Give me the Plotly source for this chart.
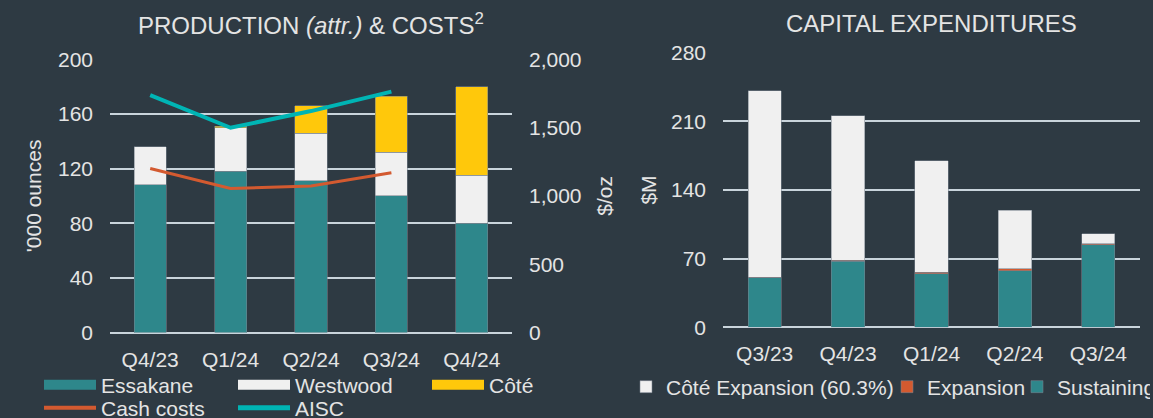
import plotly.graph_objects as go

# ---------------- data ----------------
prod_quarters = ["Q4/23", "Q1/24", "Q2/24", "Q3/24", "Q4/24"]
essakane = [108, 118, 111, 100, 80]
westwood = [28, 32, 35, 32, 35]
cote = [None, 1, 20, 41, 65]

cost_quarters = ["Q4/23", "Q1/24", "Q2/24", "Q3/24"]
cash_costs = [1200, 1055, 1072, 1170]
aisc = [1738, 1499, 1621, 1763]

capex_quarters = ["Q3/23", "Q4/23", "Q1/24", "Q2/24", "Q3/24"]
sustaining = [50.5, 67.5, 54.5, 57.5, 84]
expansion = [0.5, 1, 1.5, 2, 1.2]
cote_expansion = [190, 147, 114, 60, 10]

# ---------------- style ----------------
BG = "#2E3A43"
TXT = "#E4E4E4"
GRID = "#C9D4DC"
TEAL = "#2E878B"
WHITE = "#F0F0F0"
YELLOW = "#FFC80B"
ORANGE = "#D35A30"
CYAN = "#00B4B4"
FONT = "Liberation Sans, Arial, sans-serif"
FS = 21
W, H = 1153, 418

edge = dict(color="rgba(120,130,140,0.7)", width=0.8)

fig = go.Figure()

# left chart bars
fig.add_trace(go.Bar(x=prod_quarters, y=essakane, marker=dict(color=TEAL, line=edge),
                     width=0.4, showlegend=False, xaxis="x", yaxis="y", name="Essakane"))
fig.add_trace(go.Bar(x=prod_quarters, y=westwood, marker=dict(color=WHITE, line=edge),
                     width=0.4, showlegend=False, xaxis="x", yaxis="y", name="Westwood"))
fig.add_trace(go.Bar(x=prod_quarters, y=cote, marker=dict(color=YELLOW, line=edge),
                     width=0.4, showlegend=False, xaxis="x", yaxis="y", name="Côté"))
# cost lines
fig.add_trace(go.Scatter(x=cost_quarters, y=cash_costs, mode="lines",
                         line=dict(color=ORANGE, width=3), showlegend=False,
                         xaxis="x", yaxis="y2", name="Cash costs"))
fig.add_trace(go.Scatter(x=cost_quarters, y=aisc, mode="lines",
                         line=dict(color=CYAN, width=4), showlegend=False,
                         xaxis="x", yaxis="y2", name="AISC"))

# left legend entries (wide swatches)
for nm, col, lw, lg, rk in [("Essakane", TEAL, 12, "legend", 1), ("Westwood", WHITE, 12, "legend", 2),
                            ("Côté", YELLOW, 12, "legend", 3), ("Cash costs", ORANGE, 4, "legend3", 1),
                            ("AISC", CYAN, 5, "legend3", 2)]:
    fig.add_trace(go.Scatter(x=[None], y=[None], mode="lines", name=nm,
                             line=dict(color=col, width=lw), legend=lg, legendrank=rk,
                             legendwidth=127, xaxis="x", yaxis="y"))

# right chart bars
fig.add_trace(go.Bar(x=capex_quarters, y=sustaining, name="Sustaining",
                     marker=dict(color=TEAL, line=edge), width=0.4,
                     xaxis="x2", yaxis="y3", legend="legend2", legendrank=3, legendwidth=88))
fig.add_trace(go.Bar(x=capex_quarters, y=expansion, name="Expansion",
                     marker=dict(color=ORANGE, line=edge), width=0.4,
                     xaxis="x2", yaxis="y3", legend="legend2", legendrank=2, legendwidth=85))
fig.add_trace(go.Bar(x=capex_quarters, y=cote_expansion, name="Côté Expansion (60.3%)",
                     marker=dict(color=WHITE, line=edge), width=0.4,
                     xaxis="x2", yaxis="y3", legend="legend2", legendrank=1, legendwidth=216))

tickfont = dict(family=FONT, size=FS, color=TXT)
L0, L1 = 110 / W, 512 / W
R0, R1 = 723 / W, 1140 / W
LY0, LY1 = (H - 332.5) / H, (H - 59.3) / H
RY0, RY1 = (H - 327.3) / H, (H - 52.7) / H

legend_common = dict(orientation="h", xanchor="left", yanchor="middle",
                     bgcolor="rgba(0,0,0,0)", font=dict(family=FONT, size=FS, color=TXT),
                     tracegroupgap=0, borderwidth=0, traceorder="normal")

fig.update_layout(
    width=W, height=H,
    paper_bgcolor=BG, plot_bgcolor=BG,
    margin=dict(l=0, r=0, t=0, b=0, pad=0, autoexpand=False),
    barmode="stack",
    font=dict(family=FONT, color=TXT, size=FS),
    xaxis=dict(domain=[L0, L1], showgrid=False, showline=False, zeroline=False,
               tickfont=tickfont, ticks="", ticklabelstandoff=12),
    yaxis=dict(domain=[LY0, LY1], range=[0, 200], tickvals=[0, 40, 80, 120, 160, 200],
               showgrid=True, gridcolor=GRID, gridwidth=2, zeroline=True,
               zerolinecolor=GRID, zerolinewidth=2, tickfont=tickfont, ticks="",
               ticklabelstandoff=16,
               title=dict(text="'000 ounces", font=dict(family=FONT, size=FS, color=TXT),
                          standoff=10)),
    yaxis2=dict(overlaying="y", side="right", range=[0, 2000],
                tickvals=[0, 500, 1000, 1500, 2000], tickformat=",",
                showgrid=False, zeroline=False, tickfont=tickfont, ticks="",
                ticklabelstandoff=16, anchor="x",
                title=dict(text="$/oz", font=dict(family=FONT, size=FS, color=TXT),
                           standoff=16)),
    xaxis2=dict(domain=[R0, R1], anchor="y3", showgrid=False, showline=False,
                zeroline=False, tickfont=tickfont, ticks="", ticklabelstandoff=12),
    yaxis3=dict(domain=[RY0, RY1], anchor="x2", range=[0, 280],
                tickvals=[0, 70, 140, 210, 280], showgrid=True, gridcolor=GRID,
                gridwidth=2, zeroline=True, zerolinecolor=GRID, zerolinewidth=2,
                tickfont=tickfont, ticks="", ticklabelstandoff=16,
                title=dict(text="$M", font=dict(family=FONT, size=FS, color=TXT),
                           standoff=8)),
    legend=dict(x=39 / W, y=(H - 385) / H, itemwidth=52, **legend_common),
    legend3=dict(x=39 / W, y=(H - 408) / H, itemwidth=52, **legend_common),
    legend2=dict(x=626 / W, y=(H - 387) / H, itemwidth=30, **legend_common),
    annotations=[
        dict(text="PRODUCTION <i>(attr.)</i> & COSTS<sup>2</sup>", x=(L0 + L1) / 2,
             y=(H - 24) / H, xref="paper", yref="paper", showarrow=False,
             xanchor="center", yanchor="middle",
             font=dict(family=FONT, size=24, color=TXT)),
        dict(text="CAPITAL EXPENDITURES", x=(R0 + R1) / 2, y=(H - 24) / H,
             xref="paper", yref="paper", showarrow=False, xanchor="center",
             yanchor="middle", font=dict(family=FONT, size=24, color=TXT)),
    ],
)

fig.write_html(
    "out.html",
    config={"displayModeBar": False},
    post_script="document.body.style.margin='0';document.body.style.padding='0';"
                "document.body.style.overflow='hidden';"
                "document.body.style.backgroundColor='" + BG + "';",
)
